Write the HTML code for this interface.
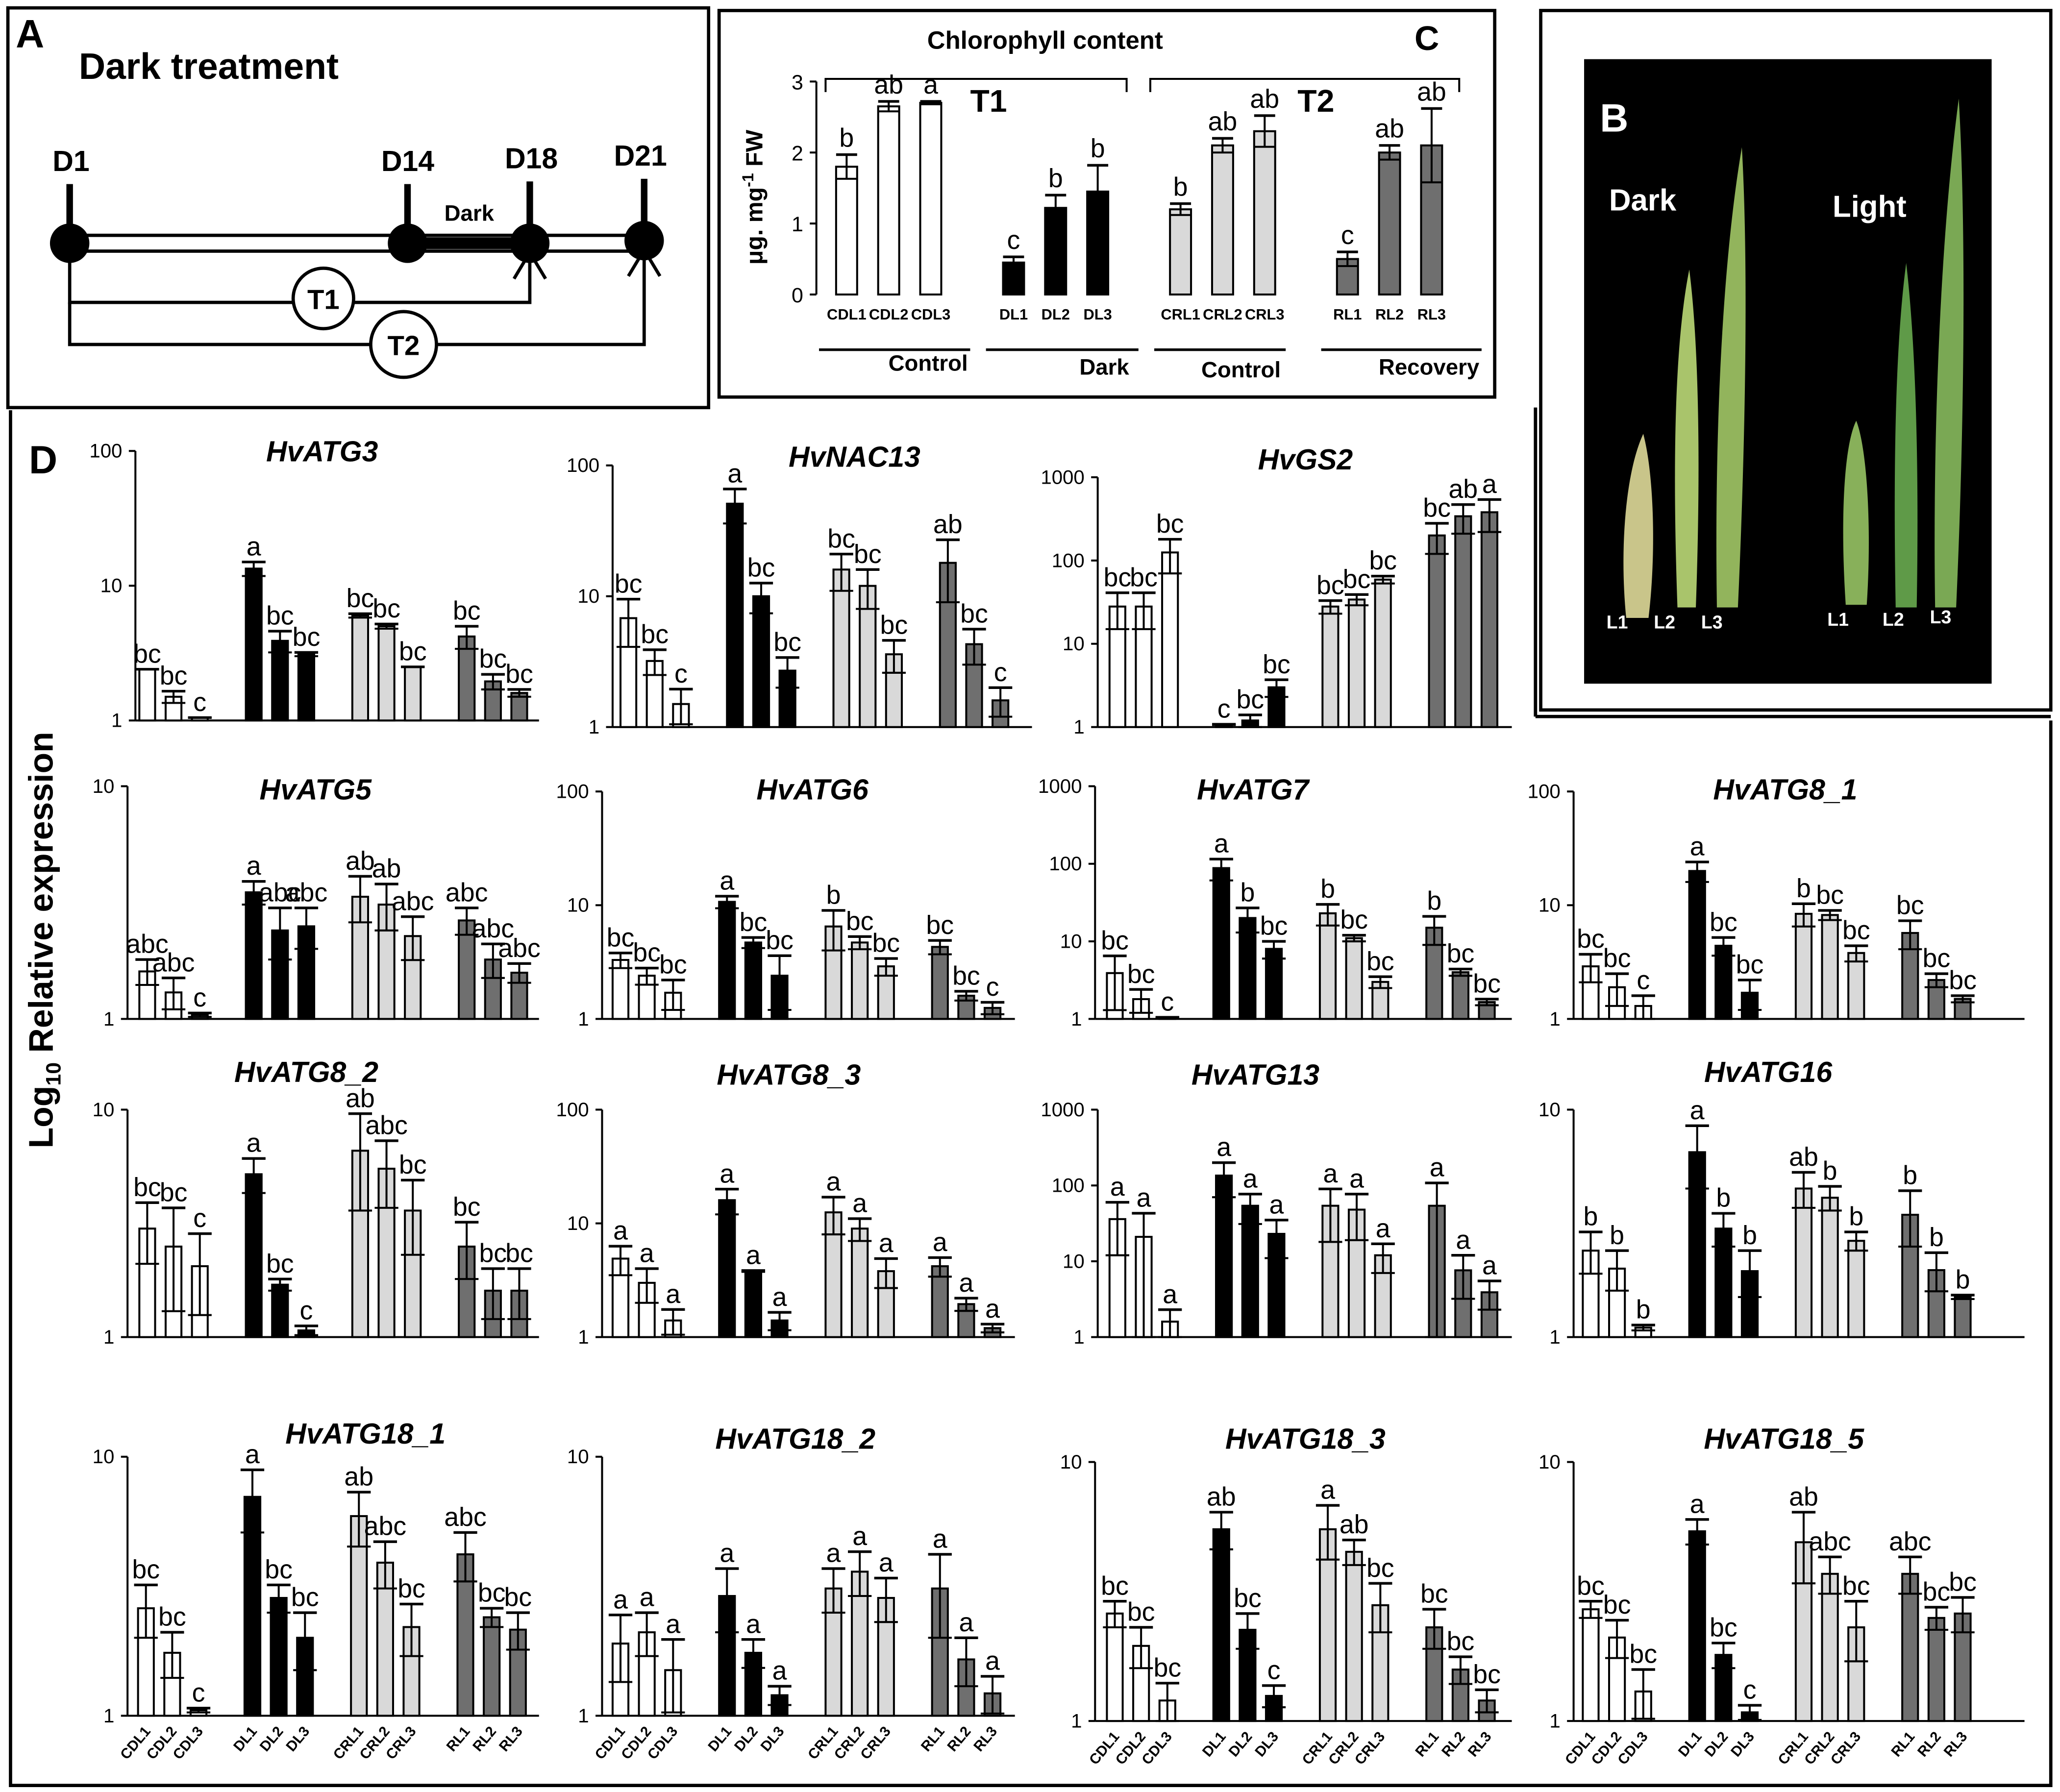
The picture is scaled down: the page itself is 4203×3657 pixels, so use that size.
<!DOCTYPE html>
<html><head><meta charset="utf-8">
<style>
html,body{margin:0;padding:0;background:#fff}
svg{display:block}
text{font-family:"Liberation Sans",Arial,sans-serif}
</style></head>
<body>
<svg id="fig" width="4203" height="3657" viewBox="0 0 1567 1363" preserveAspectRatio="none" xmlns="http://www.w3.org/2000/svg">
<rect x="0" y="0" width="1567" height="1363" fill="#fff"/>
<!-- panel borders -->
<g fill="none" stroke="#000" stroke-width="2.5">
<rect x="6" y="6" width="533" height="304"/>
<rect x="547" y="8" width="590" height="294"/>
<rect x="1172" y="8" width="388" height="532"/>
<line x1="1168" y1="310" x2="1168" y2="545"/>
<line x1="1168" y1="545" x2="1560" y2="545"/>
<polyline points="1168,310 1168,545"/>
<polyline points="8,312 8,1358 1560,1358 1560,548"/>
</g>
<!-- Panel A -->
<g>
<text x="12" y="36" font-size="30" font-weight="bold">A</text>
<text x="60" y="60" font-size="28" font-weight="bold">Dark treatment</text>
<line x1="53" y1="179" x2="490" y2="179" stroke="#000" stroke-width="2.5"/>
<line x1="53" y1="191" x2="490" y2="191" stroke="#000" stroke-width="2.5"/>
<line x1="310" y1="185" x2="403" y2="185" stroke="#000" stroke-width="9"/>
<g stroke="#000" stroke-width="5">
<line x1="53" y1="140" x2="53" y2="185"/><line x1="310" y1="140" x2="310" y2="185"/>
<line x1="403" y1="138" x2="403" y2="185"/><line x1="490" y1="136" x2="490" y2="183"/>
</g>
<circle cx="53" cy="185" r="15" fill="#000"/><circle cx="310" cy="185" r="15" fill="#000"/>
<circle cx="403" cy="185" r="15" fill="#000"/><circle cx="490" cy="183" r="15" fill="#000"/>
<text x="40" y="130" font-size="22" font-weight="bold">D1</text>
<text x="290" y="130" font-size="22" font-weight="bold">D14</text>
<text x="384" y="128" font-size="22" font-weight="bold">D18</text>
<text x="467" y="126" font-size="22" font-weight="bold">D21</text>
<text x="338" y="168" font-size="17" font-weight="bold">Dark</text>
<g fill="none" stroke="#000" stroke-width="2.5">
<polyline points="53,185 53,230 403,230 403,192"/>
<polyline points="391,212 403,192 415,212"/>
<polyline points="53,230 53,262 490,262 490,190"/>
<polyline points="478,210 490,190 502,210"/>
</g>
<circle cx="246" cy="227" r="23" fill="#fff" stroke="#000" stroke-width="2.5"/>
<text x="246" y="235" font-size="21" font-weight="bold" text-anchor="middle">T1</text>
<circle cx="307" cy="262" r="25" fill="#fff" stroke="#000" stroke-width="2.5"/>
<text x="307" y="270" font-size="21" font-weight="bold" text-anchor="middle">T2</text>
</g>
<!-- Panel B -->
<g>
<rect x="1205" y="45" width="310" height="475" fill="#000"/>
<text x="1217" y="100" font-size="30" font-weight="bold" fill="#fff">B</text>
<text x="1224" y="160" font-size="23" font-weight="bold" fill="#fff">Dark</text>
<text x="1394" y="165" font-size="23" font-weight="bold" fill="#fff">Light</text>
<path d="M1237,470 C1232,420 1236,360 1250,330 C1258,360 1260,420 1254,470 Z" fill="#c9c58a"/>
<path d="M1276,462 C1272,350 1274,260 1285,205 C1292,260 1294,350 1290,462 Z" fill="#a9c46b"/>
<path d="M1306,462 C1304,330 1310,200 1325,112 C1330,200 1328,330 1322,462 Z" fill="#92b45c"/>
<path d="M1404,460 C1400,400 1402,340 1412,320 C1420,340 1424,400 1420,460 Z" fill="#88b05a"/>
<path d="M1442,462 C1440,350 1442,260 1450,200 C1457,260 1460,350 1458,462 Z" fill="#5f9a48"/>
<path d="M1472,462 C1470,330 1476,180 1490,75 C1496,180 1494,330 1488,462 Z" fill="#7aa854"/>
<g fill="#fff" font-size="14" font-weight="bold">
<text x="1222" y="478">L1</text><text x="1258" y="478">L2</text><text x="1294" y="478">L3</text>
<text x="1390" y="476">L1</text><text x="1432" y="476">L2</text><text x="1468" y="474">L3</text>
</g>
</g>
<!-- Panel C -->
<g id="panelC">
<text x="795" y="37" font-size="19" font-weight="bold" text-anchor="middle">Chlorophyll content</text>
<text x="1076" y="38" font-size="26" font-weight="bold">C</text>
<text x="580" y="150" font-size="18" font-weight="bold" transform="rotate(-90 580 150)" text-anchor="middle">μg. mg<tspan dy="-7" font-size="12">-1</tspan><tspan dy="7"> FW</tspan></text>
<g fill="none" stroke="#000" stroke-width="1.5">
<polyline points="628,70 628,60 857,60 857,70"/>
<polyline points="875,70 875,60 1110,60 1110,70"/>
</g>
<text x="738" y="85" font-size="24" font-weight="bold">T1</text>
<text x="987" y="85" font-size="24" font-weight="bold">T2</text>
<g stroke="#000" stroke-width="2">
<line x1="623" y1="266" x2="738" y2="266"/><line x1="750" y1="266" x2="866" y2="266"/>
<line x1="878" y1="266" x2="978" y2="266"/><line x1="1005" y1="266" x2="1127" y2="266"/>
</g>
<g font-size="17" font-weight="bold" text-anchor="middle">
<text x="706" y="282">Control</text><text x="840" y="285">Dark</text>
<text x="944" y="287">Control</text><text x="1087" y="285">Recovery</text>
</g>
</g>
<!-- Panel D labels -->
<text x="22" y="360" font-size="30" font-weight="bold">D</text>
<text x="40" y="715" font-size="26" font-weight="bold" transform="rotate(-90 40 715)" text-anchor="middle">Log<tspan font-size="16" dy="6">10</tspan><tspan dy="-6"> Relative  expression</tspan></text>
<g id="panelD"></g>
</svg>
<script>
// ---------- Panel C data ----------
const chlCategories = ["CDL1","CDL2","CDL3","DL1","DL2","DL3","CRL1","CRL2","CRL3","RL1","RL2","RL3"];
const chlValues = [1.8,2.65,2.7,0.45,1.22,1.45,1.2,2.1,2.3,0.5,2.0,2.1];
const chlUpper = [1.97,2.72,2.72,0.53,1.4,1.82,1.28,2.2,2.52,0.6,2.1,2.62];
const chlLetters = ["b","ab","a","c","b","b","b","ab","ab","c","ab","ab"];
const chlTicks = [0,1,2,3];

// ---------- Panel D data ----------
const geneNames = ["HvATG3","HvNAC13","HvGS2","HvATG5","HvATG6","HvATG7","HvATG8_1","HvATG8_2","HvATG8_3","HvATG13","HvATG16","HvATG18_1","HvATG18_2","HvATG18_3","HvATG18_5"];
const sampleLabels = ["CDL1","CDL2","CDL3","DL1","DL2","DL3","CRL1","CRL2","CRL3","RL1","RL2","RL3"];
const atg3Vals=[2.4,1.5,1.05,13.4,3.9,3.1,6,5,2.5,4.2,1.95,1.6];
const atg3Caps=[2.4,1.65,1.05,15,4.6,3.2,6.2,5.2,2.5,5,2.2,1.7];
const atg3Let=["bc","bc","c","a","bc","bc","bc","bc","bc","bc","bc","bc"];
const nac13Vals=[6.8,3.2,1.5,51,10,2.7,16,12,3.6,18,4.3,1.6];
const nac13Caps=[9.5,3.9,1.95,66,12.6,3.4,21,16,4.6,27,5.6,2];
const nac13Let=["bc","bc","c","a","bc","bc","bc","bc","bc","ab","bc","c"];
const gs2Vals=[28,28,125,1.07,1.2,3,28,34,59,200,340,380];
const gs2Caps=[41,41,180,1.08,1.4,3.7,33,39,65,280,470,540];
const gs2Let=["bc","bc","bc","c","bc","bc","bc","bc","bc","bc","ab","a"];
const atg5Vals=[1.6,1.3,1.04,3.5,2.4,2.5,3.35,3.1,2.27,2.65,1.8,1.58];
const atg5Caps=[1.8,1.5,1.06,3.9,3.0,3.0,4.1,3.8,2.75,3.0,2.1,1.73];
const atg5Let=["abc","abc","c","a","abc","abc","ab","ab","abc","abc","abc","abc"];
const atg6Vals=[3.3,2.4,1.7,10.7,4.7,2.4,6.5,4.7,2.9,4.3,1.6,1.25];
const atg6Caps=[3.8,2.8,2.2,12,5.2,3.6,9,5.3,3.4,4.9,1.75,1.4];
const atg6Let=["bc","bc","bc","a","bc","bc","b","bc","bc","bc","bc","c"];
const atg7Vals=[3.9,1.8,1.04,88,20,8,23,11,3,15,4,1.65];
const atg7Caps=[6.5,2.4,1.05,115,27,10,30,12,3.5,21,4.4,1.8];
const atg7Let=["bc","bc","c","a","b","bc","b","bc","bc","b","bc","bc"];
const atg81Vals=[2.9,1.9,1.3,20,4.4,1.7,8.4,8.2,3.8,5.7,2.2,1.5];
const atg81Caps=[3.7,2.5,1.6,24,5.2,2.2,10.3,9,4.4,7.3,2.5,1.6];
const atg81Let=["bc","bc","c","a","bc","bc","b","bc","bc","bc","bc","bc"];
const atg82Vals=[3.0,2.5,2.05,5.2,1.7,1.07,6.6,5.5,3.6,2.5,1.6,1.6];
const atg82Caps=[3.9,3.7,2.85,6.1,1.8,1.12,9.6,7.3,4.9,3.2,2.0,2.0];
const atg82Let=["bc","bc","c","a","bc","c","ab","abc","bc","bc","bc","bc"];
const atg83Vals=[4.9,3.0,1.4,16,3.8,1.4,12.5,9,3.8,4.2,1.95,1.2];
const atg83Caps=[6.3,4,1.75,20,3.85,1.65,17,11,4.9,5,2.2,1.3];
const atg83Let=["a","a","a","a","a","a","a","a","a","a","a","a"];
const atg13Vals=[36,21,1.6,135,54,23,54,48,12,54,7.6,3.9];
const atg13Caps=[60,43,2.3,200,77,35,90,77,17,108,12,5.5];
const atg13Let=["a","a","a","a","a","a","a","a","a","a","a","a"];
const atg16Vals=[2.4,2.0,1.1,6.5,3.0,1.95,4.5,4.1,2.65,3.45,1.97,1.5];
const atg16Caps=[2.9,2.4,1.13,8.5,3.5,2.4,5.3,4.6,2.9,4.4,2.35,1.53];
const atg16Let=["b","b","b","a","b","b","ab","b","b","b","b","b"];
const atg181Vals=[2.6,1.75,1.05,7,2.85,2.0,5.9,3.9,2.2,4.2,2.4,2.15];
const atg181Caps=[3.2,2.1,1.07,8.9,3.2,2.5,7.3,4.7,2.7,5.1,2.6,2.5];
const atg181Let=["bc","bc","c","a","bc","bc","ab","abc","bc","abc","bc","bc"];
const atg182Vals=[1.9,2.1,1.5,2.9,1.75,1.2,3.1,3.6,2.85,3.1,1.65,1.22];
const atg182Caps=[2.45,2.5,1.97,3.7,1.97,1.3,3.7,4.3,3.4,4.2,2.0,1.42];
const atg182Let=["a","a","a","a","a","a","a","a","a","a","a","a"];
const atg183Vals=[2.6,1.95,1.2,5.5,2.25,1.25,5.5,4.5,2.8,2.3,1.58,1.2];
const atg183Caps=[2.9,2.3,1.4,6.4,2.6,1.37,6.8,5,3.4,2.7,1.77,1.32];
const atg183Let=["bc","bc","bc","ab","bc","c","a","ab","bc","bc","bc","bc"];
const atg185Vals=[2.7,2.1,1.3,5.4,1.8,1.08,4.9,3.7,2.3,3.7,2.5,2.6];
const atg185Caps=[2.9,2.45,1.58,6.0,2.0,1.15,6.4,4.3,2.9,4.3,2.75,3.0];
const atg185Let=["bc","bc","bc","a","bc","c","ab","abc","bc","abc","bc","bc"];
const allVals=[atg3Vals,nac13Vals,gs2Vals,atg5Vals,atg6Vals,atg7Vals,atg81Vals,atg82Vals,atg83Vals,atg13Vals,atg16Vals,atg181Vals,atg182Vals,atg183Vals,atg185Vals];
const allCaps=[atg3Caps,nac13Caps,gs2Caps,atg5Caps,atg6Caps,atg7Caps,atg81Caps,atg82Caps,atg83Caps,atg13Caps,atg16Caps,atg181Caps,atg182Caps,atg183Caps,atg185Caps];
const allLet=[atg3Let,nac13Let,gs2Let,atg5Let,atg6Let,atg7Let,atg81Let,atg82Let,atg83Let,atg13Let,atg16Let,atg181Let,atg182Let,atg183Let,atg185Let];
const decadeCounts=[2,2,3,1,2,3,2,1,2,3,1,1,1,1,1];

const NS="http://www.w3.org/2000/svg";
const groupFills=["#fff","#000","#d9d9d9","#6f6f6f"];
function mk(tag,attrs,parent){const e=document.createElementNS(NS,tag);for(const k in attrs)e.setAttribute(k,attrs[k]);parent.appendChild(e);return e;}

// ---------- Panel C drawing ----------
(function(){
  const g=document.getElementById('panelC');
  const ax=621,y0=224,y3=62;
  const yS=v=>y0-(v/3)*(y0-y3);
  const xs=i=>644+Math.floor(i/3)*127+(i%3)*32;
  mk('line',{x1:ax,y1:y3,x2:ax,y2:y0,stroke:'#000','stroke-width':1.5},g);
  chlTicks.forEach(t=>{
    mk('line',{x1:ax-5,y1:yS(t),x2:ax,y2:yS(t),stroke:'#000','stroke-width':1.5},g);
    const tx=mk('text',{x:ax-10,y:yS(t)+6,'font-size':16,'text-anchor':'end'},g);tx.textContent=t;
  });
  chlValues.forEach((v,i)=>{
    const cx=xs(i),w=16,fill=groupFills[Math.floor(i/3)];
    const r=mk('rect',{x:cx-w/2,y:yS(v),width:w,height:y0-yS(v),fill:fill,stroke:'#000','stroke-width':1.5},g);
    
    
    const up=chlUpper[i],lo=Math.max(0,2*v-up);
    mk('line',{x1:cx,y1:yS(up),x2:cx,y2:yS(lo),stroke:'#000','stroke-width':1.5},g);
    mk('line',{x1:cx-8,y1:yS(up),x2:cx+8,y2:yS(up),stroke:'#000','stroke-width':2},g);
    mk('line',{x1:cx-8,y1:yS(lo),x2:cx+8,y2:yS(lo),stroke:'#000','stroke-width':1.5},g);
    const lt=mk('text',{x:cx,y:yS(up)-6,'font-size':20,'text-anchor':'middle'},g);lt.textContent=chlLetters[i];
    const cl=mk('text',{x:cx,y:243,'font-size':11.5,'font-weight':'bold','text-anchor':'middle'},g);cl.textContent=chlCategories[i];
  });
  mk('line',{x1:ax,y1:y0,x2:1112,y2:y0,stroke:'#000','stroke-width':0},g);
})();

// ---------- Panel D drawing ----------
const chartBoxes=[
 {ax:103,top:343,bot:548,end:410,off:9,tx:245,ty:351},
 {ax:466,top:354,bot:553,end:785,off:12,tx:650,ty:355},
 {ax:835,top:363,bot:553,end:1150,off:15,tx:993,ty:357},
 {ax:97,top:598,bot:775,end:410,off:15,tx:240,ty:608},
 {ax:458,top:602,bot:775,end:772,off:14,tx:618,ty:608},
 {ax:833,top:598,bot:775,end:1150,off:15,tx:953,ty:608},
 {ax:1197,top:602,bot:775,end:1540,off:13,tx:1358,ty:608},
 {ax:97,top:844,bot:1017,end:410,off:15,tx:233,ty:823},
 {ax:458,top:844,bot:1017,end:772,off:14,tx:600,ty:825},
 {ax:835,top:844,bot:1017,end:1150,off:15,tx:955,ty:825},
 {ax:1197,top:844,bot:1017,end:1540,off:13,tx:1345,ty:823},
 {ax:97,top:1108,bot:1305,end:410,off:14,tx:278,ty:1098},
 {ax:458,top:1108,bot:1305,end:772,off:14,tx:605,ty:1102},
 {ax:833,top:1112,bot:1309,end:1150,off:15,tx:993,ty:1102},
 {ax:1197,top:1112,bot:1309,end:1540,off:13,tx:1357,ty:1102}
];
(function(){
  const root=document.getElementById('panelD');
  geneNames.forEach((name,c)=>{
    const b=chartBoxes[c],nd=decadeCounts[c];
    const g=mk('g',{},root);
    
    
    const yS=v=>b.bot-Math.log10(Math.max(v,1))/nd*(b.bot-b.top);
    const xS=i=>b.ax+b.off+Math.floor(i/3)*81+(i%3)*20;
    const t=mk('text',{x:b.tx,y:b.ty,'font-size':22,'font-weight':'bold','font-style':'italic','text-anchor':'middle'},g);
    t.textContent=name;
    
    
    mk('line',{x1:b.ax,y1:b.top,x2:b.ax,y2:b.bot,stroke:'#000','stroke-width':1.5},g);
    mk('line',{x1:b.ax,y1:b.bot,x2:b.end,y2:b.bot,stroke:'#000','stroke-width':1.5},g);
    for(let d=0;d<=nd;d++){
      const v=Math.pow(10,d),y=yS(v);
      mk('line',{x1:b.ax-5,y1:y,x2:b.ax,y2:y,stroke:'#000','stroke-width':1.5},g);
      const tx=mk('text',{x:b.ax-10,y:y+5,'font-size':15,'text-anchor':'end'},g);tx.textContent=v;
    }
    const vals=allVals[c],caps=allCaps[c],lets=allLet[c];
    vals.forEach((v,i)=>{
      const cx=xS(i),w=12,fill=groupFills[Math.floor(i/3)];
      const r=mk('rect',{x:cx-w/2,y:yS(v),width:w,height:b.bot-yS(v),fill:fill,stroke:'#000','stroke-width':1.5},g);
      
      
      const up=caps[i],lo=Math.max(1,2*v-up);
      mk('line',{x1:cx,y1:yS(up),x2:cx,y2:yS(lo),stroke:'#000','stroke-width':1.5},g);
      mk('line',{x1:cx-9,y1:yS(up),x2:cx+9,y2:yS(up),stroke:'#000','stroke-width':2},g);
      mk('line',{x1:cx-9,y1:yS(lo),x2:cx+9,y2:yS(lo),stroke:'#000','stroke-width':1.5},g);
      const lt=mk('text',{x:cx,y:yS(up)-5,'font-size':20,'text-anchor':'middle'},g);lt.textContent=lets[i];
      if(c>=11){
        const xl=mk('text',{x:cx+4,y:b.bot+12,'font-size':11,'font-weight':'bold','text-anchor':'end',transform:'rotate(-50 '+(cx+4)+' '+(b.bot+12)+')'},g);
        xl.textContent=sampleLabels[i];
      }
    });
  });
})();
</script>
</body></html>
